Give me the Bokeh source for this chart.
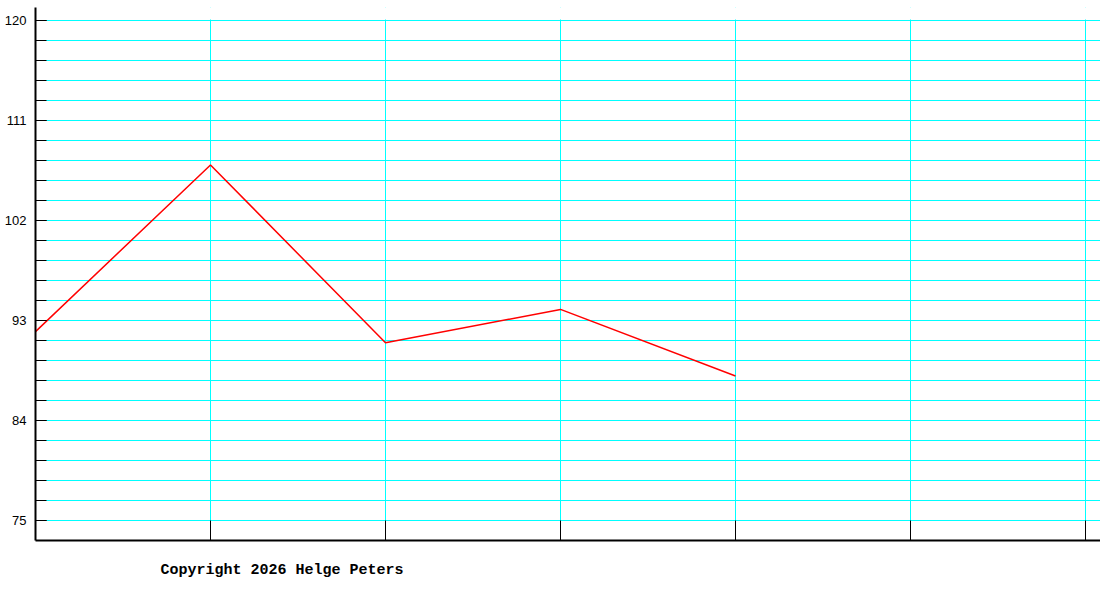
from bokeh.plotting import figure
from bokeh.models import Range1d, FixedTicker, LinearAxis, Title, BoxAnnotation, Grid
from bokeh.embed import file_html
from bokeh.resources import INLINE

# ---- data ----
x_positions = [0, 1, 2, 3, 4]
values = [92, 107, 91, 94, 88]
y_tick_labels = [75, 84, 93, 102, 111, 120]
y_step = 1.8
y_grid = [round(75 + y_step * i, 2) for i in range(26)]
x_grid = [1, 2, 3, 4, 5, 6]
copyright_text = "Copyright 2026 Helge Peters"

# ---- layout constants ----
PX_X = 175.0          # px per x unit
PX_Y = 20.0 / y_step  # px per y unit
W, H = 1100, 598
LEFT, TOP, BOTTOM = 35, 7, 58
FRAME_W = W - LEFT
FRAME_H = H - TOP - BOTTOM
y0 = 75 - 20 / PX_Y
x_end = FRAME_W / PX_X
y_end = y0 + FRAME_H / PX_Y

p = figure(width=W, height=H, output_backend="svg", toolbar_location=None,
           x_range=Range1d(0, x_end), y_range=Range1d(y0, y_end),
           x_axis_type=None, y_axis_type=None,
           min_border_left=LEFT, min_border_right=0, min_border_top=TOP,
           min_border_bottom=BOTTOM)
p.outline_line_color = None
p.background_fill_color = "white"
p.border_fill_color = "white"

CYAN = "#00FFFF"
p.add_layout(Grid(dimension=0, ticker=FixedTicker(ticks=x_grid), grid_line_color=CYAN, grid_line_width=1))
p.add_layout(Grid(dimension=1, ticker=FixedTicker(ticks=y_grid), grid_line_color=CYAN, grid_line_width=1))

# hide vertical grid above the top gridline
p.add_layout(BoxAnnotation(bottom=max(y_grid) + 0.1, fill_color="white", fill_alpha=1,
                           line_alpha=0, level="underlay"))

yaxis = LinearAxis(ticker=FixedTicker(ticks=y_tick_labels, minor_ticks=y_grid))
yaxis.axis_line_width = 2
yaxis.axis_line_color = "black"
yaxis.major_tick_in = 11
yaxis.major_tick_out = 0
yaxis.minor_tick_in = 11
yaxis.minor_tick_out = 0
yaxis.major_tick_line_color = "black"
yaxis.minor_tick_line_color = "black"
yaxis.major_label_standoff = 9
yaxis.major_label_text_font = "Liberation Sans"
yaxis.major_label_text_font_size = "13px"
yaxis.major_label_text_color = "black"
p.add_layout(yaxis, "left")

xaxis = LinearAxis(ticker=FixedTicker(ticks=[], minor_ticks=x_grid))
xaxis.axis_line_width = 2
xaxis.axis_line_color = "black"
xaxis.minor_tick_in = 20
xaxis.minor_tick_out = 0
xaxis.minor_tick_line_color = "black"
xaxis.major_tick_in = 0
xaxis.major_tick_out = 0
p.add_layout(xaxis, "below")

p.line(x_positions, values, line_color="#FF0000", line_width=1.5)

p.add_layout(Title(text=copyright_text, align="left", offset=125, standoff=38,
                   text_font="Liberation Mono", text_font_style="bold",
                   text_font_size="15px", text_color="black"), "below")

open("out.html", "w").write(file_html(p, INLINE))
